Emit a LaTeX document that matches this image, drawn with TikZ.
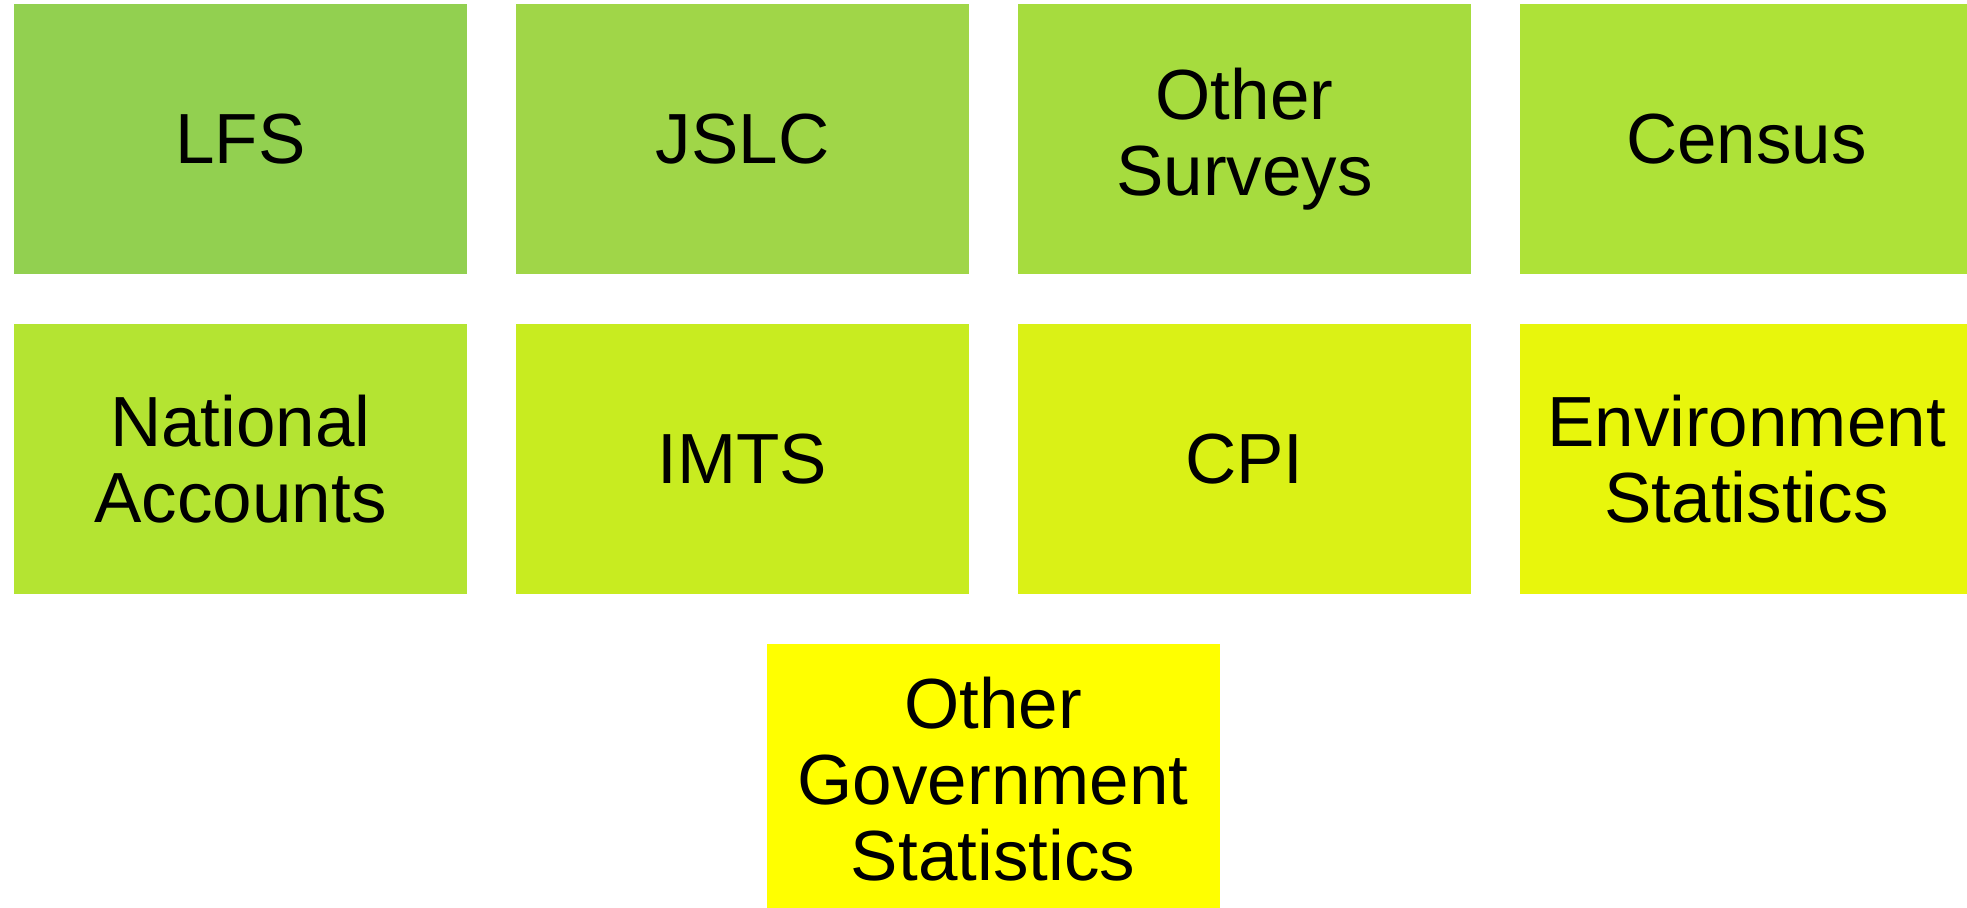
\documentclass[tikz,border=0pt]{standalone}
\usepackage{fontspec}
\setmainfont{Liberation Sans}
\definecolor{tone0}{RGB}{146,208,80}
\definecolor{tone1}{RGB}{160,214,72}
\definecolor{tone2}{RGB}{166,220,62}
\definecolor{tone3}{RGB}{174,226,56}
\definecolor{tone4}{RGB}{180,228,50}
\definecolor{tone5}{RGB}{200,236,32}
\definecolor{tone6}{RGB}{218,241,22}
\definecolor{tone7}{RGB}{232,246,12}
\definecolor{tone8}{RGB}{255,255,0}
\tikzset{tile/.style={
    minimum width=226.5pt,minimum height=135pt,inner sep=0pt,
    align=center,font=\fontsize{35.5}{38}\selectfont}}

\begin{document}
\begin{tikzpicture}
  % cadre
\useasboundingbox (0,0) rectangle (983.5pt,-454pt);
\clip (0,0) rectangle (983.5pt,-454pt);

  % premiere rangee
\node[tile,fill=tone0] (lfs)    at (120.25pt,-69.5pt) {LFS};
\node[tile,fill=tone1] (jslc)   at (371.25pt,-69.5pt) {JSLC};
\node[tile,fill=tone2] (survey) at (622.25pt,-69.5pt) {Other\\Surveys};
\node[tile,fill=tone3] (census) at (873.25pt,-69.5pt) {Census};

  % deuxieme rangee
\node[tile,fill=tone4] (accounts) at (120.25pt,-229.5pt) {National\\Accounts};
\node[tile,fill=tone5] (imts)     at (371.25pt,-229.5pt) {IMTS};
\node[tile,fill=tone6] (cpi)      at (622.25pt,-229.5pt) {CPI};
\node[tile,fill=tone7] (environ)  at (873.25pt,-229.5pt) {Environment\\Statistics};

  % derniere
\node[tile,fill=tone8] (govstat) at (496.5pt,-389.5pt) {Other\\Government\\Statistics};
\end{tikzpicture}
\end{document}
